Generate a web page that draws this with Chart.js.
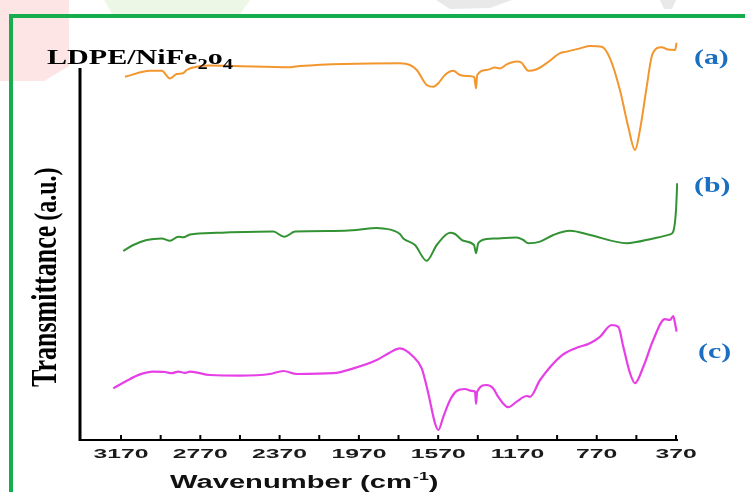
<!DOCTYPE html>
<html><head><meta charset="utf-8">
<script src="https://cdn.jsdelivr.net/npm/chart.js@4"></script>
<style>html,body{margin:0;padding:0;background:#fff;overflow:hidden}canvas{display:block}</style>
</head><body>
<canvas id="c" width="745" height="492"></canvas>
<script>
// ---- data (wavenumber in cm-1, transmittance in a.u.) ----
const waveA = [3150,3024,2965,2923,2889,2857,2839,2788,2721,2605,2318,2267,1763,1712,1678,1628,1595,1569,1536,1494,1460,1418,1388,1379,1373,1325,1283,1258,1224,1174,1149,1115,1073,1023,955,922,854,804,745,703,653,611,577,552,518,493,468,442,417,375,367];
const transA = [90.8,92.3,92.3,90.4,91.5,91.7,92.5,93.3,93.6,93.5,93.2,93.5,94.2,93.75,92.5,88.75,88.3,89.2,91.25,92.3,91.25,91,90.7,87.9,91.25,92.5,93.1,92.9,93.9,94.6,94.3,92.3,92.7,94.2,96.7,97.1,97.9,98.5,98.3,95.4,87.5,78.3,72.5,77.5,88.3,95.8,97.9,98.2,97.7,97.5,99.3];

const waveB = [3159,3108,3041,2965,2923,2881,2856,2822,2687,2402,2346,2292,2099,1981,1880,1847,1763,1746,1687,1628,1577,1510,1485,1443,1389,1379,1368,1325,1275,1174,1141,1115,1056,989,905,804,619,485,400,384,370,364];
const transB = [47.25,48.75,50,50.4,49.8,50.8,50.7,51.4,51.8,52.1,50.8,52.1,52.25,52.5,53,52.9,51.5,50.4,48.75,44.8,48.75,51.8,51.5,49.8,48.75,46.7,49.2,50.25,50.4,50.6,50,49.2,49.6,51.25,52.3,51.25,49.2,50.4,51.4,52.1,57.5,64.2];

const waveC = [3209,3141,3074,3007,2948,2914,2881,2847,2822,2721,2570,2418,2351,2284,2099,1998,1880,1813,1763,1695,1653,1620,1586,1569,1544,1510,1477,1435,1401,1384,1379,1373,1325,1292,1267,1216,1174,1123,1107,1056,955,880,804,754,695,661,636,602,577,535,485,426,400,384,375,367];
const transC = [12.9,14.8,16.4,17.1,17,16.7,17.1,16.8,17.1,16.25,16.1,16.5,17.25,16.5,16.7,17.9,20,21.9,22.9,20.8,17.9,11.7,4.2,2.5,5.8,10,12.25,12.75,12.3,12.1,9,12.1,13.75,12.9,10.8,8.2,9.6,11,10.8,15,20.8,22.9,24.2,25.8,28.75,28.3,23.3,16.7,14.2,18.3,25,30.2,30,31,29.2,27.1];

const seriesLabels = ['(a)','(b)','(c)'];
const seriesLabelLevel = [93.9, 61.9, 20.4];   // baseline level of series tags (a.u.)
const tickValues = [3170,2970,2770,2570,2370,2170,1970,1770,1570,1370,1170,970,770,570,370];
const tickLabels = ['3170','','2770','','2370','','1970','','1570','','1170','','770','','370'];
const xTitleMain = 'Wavenumber (cm';
const xTitleSup = '-1';
const xTitleEnd = ')';
const yTitleMain = 'Transmittance';
const yTitleUnit = '(a.u.)';
const sampleMain = 'LDPE/NiFe';
const sampleSub1 = '2';
const sampleMid = 'o';
const sampleSub2 = '4';

const xMin = 360, xMax = 3377;
const yMin = 0, yMax = 100, yAxisTop = 93;

function stretchText(ctx, text, x, y, font, sx, color, align) {
  ctx.save();
  ctx.font = font; ctx.fillStyle = color; ctx.textBaseline = 'alphabetic'; ctx.textAlign = 'left';
  const w = ctx.measureText(text).width * sx;
  let x0 = x;
  if (align === 'center') x0 = x - w / 2; else if (align === 'right') x0 = x - w;
  ctx.translate(x0, y); ctx.scale(sx, 1); ctx.fillText(text, 0, 0);
  ctx.restore();
  return w;
}

const deco = {
  id: 'deco',
  beforeDraw(chart) {
    const ctx = chart.ctx, W = chart.width, H = chart.height;
    ctx.save();
    ctx.fillStyle = '#fff'; ctx.fillRect(0, 0, W, H);
    ctx.fillStyle = '#fde5e5';
    ctx.beginPath(); ctx.moveTo(0,0); ctx.lineTo(69,0); ctx.lineTo(69,66); ctx.lineTo(44,81); ctx.lineTo(0,81); ctx.closePath(); ctx.fill();
    ctx.fillStyle = '#edf7e5';
    ctx.beginPath(); ctx.moveTo(104,0); ctx.lineTo(250,0); ctx.lineTo(240,14); ctx.lineTo(112,14); ctx.closePath(); ctx.fill();
    ctx.fillStyle = '#e9e9e9';
    ctx.beginPath(); ctx.moveTo(436,0); ctx.lineTo(512,0); ctx.lineTo(490,8); ctx.lineTo(450,9); ctx.closePath(); ctx.fill();
    ctx.beginPath(); ctx.moveTo(660,0); ctx.lineTo(676,0); ctx.lineTo(672,9); ctx.lineTo(664,9); ctx.closePath(); ctx.fill();
    ctx.strokeStyle = '#16ad4e'; ctx.lineWidth = 4;
    ctx.beginPath(); ctx.moveTo(11, H + 5); ctx.lineTo(11, 16); ctx.lineTo(W + 5, 16); ctx.stroke();
    ctx.restore();
  },
  afterDraw(chart) {
    const ctx = chart.ctx, a = chart.chartArea, xs = chart.scales.x, ys = chart.scales.y;
    ctx.save();
    ctx.strokeStyle = '#000';
    // y axis line
    ctx.lineWidth = 3;
    ctx.beginPath(); ctx.moveTo(a.left, ys.getPixelForValue(yAxisTop)); ctx.lineTo(a.left, a.bottom + 1); ctx.stroke();
    // x axis line
    ctx.lineWidth = 2;
    ctx.beginPath(); ctx.moveTo(a.left - 1, a.bottom); ctx.lineTo(a.right, a.bottom); ctx.stroke();
    // tick marks (inward)
    xs.ticks.forEach(t => {
      const px = xs.getPixelForValue(t.value);
      ctx.beginPath(); ctx.moveTo(px, a.bottom); ctx.lineTo(px, a.bottom - 5); ctx.stroke();
    });
    // tick labels
    const tf = 'bold 13px "Liberation Sans", Arial, sans-serif';
    ctx.font = tf;
    const tsx = 55 / ctx.measureText('3170').width;
    xs.ticks.forEach((t, i) => {
      const lab = tickLabels[tickValues.indexOf(t.value)];
      if (lab) stretchText(ctx, lab, xs.getPixelForValue(t.value), a.bottom + 18, tf, tsx, '#1a1a1a', 'center');
    });
    // x title
    const xf = 'bold 18px "Liberation Sans", Arial, sans-serif';
    const xfs = 'bold 11px "Liberation Sans", Arial, sans-serif';
    const xsx = 1.62;
    let cx = 170;
    const base = 488;
    cx += stretchText(ctx, xTitleMain, cx, base, xf, xsx, '#111', 'left');
    cx += stretchText(ctx, xTitleSup, cx + 1, base - 8, xfs, xsx, '#111', 'left') + 1;
    stretchText(ctx, xTitleEnd, cx, base, xf, xsx, '#111', 'left');
    // y title (rotated)
    ctx.save();
    ctx.translate(56, 387);
    ctx.rotate(-Math.PI / 2);
    ctx.scale(1, 1.35);
    ctx.fillStyle = '#000'; ctx.textAlign = 'left'; ctx.textBaseline = 'alphabetic';
    ctx.font = 'bold 26px "Liberation Serif", "Times New Roman", serif';
    const tw = ctx.measureText(yTitleMain).width;
    ctx.fillText(yTitleMain, 0, 0);
    ctx.font = 'bold 24px "Liberation Serif", "Times New Roman", serif';
    ctx.fillText(yTitleUnit, tw + 5, 0);
    ctx.restore();
    // sample label
    const sf = 'bold 22px "Liberation Serif", "Times New Roman", serif';
    const ssf = 'bold 15px "Liberation Serif", "Times New Roman", serif';
    ctx.font = sf;
    let nat = ctx.measureText(sampleMain).width + ctx.measureText(sampleMid).width;
    ctx.font = ssf;
    nat += ctx.measureText(sampleSub1).width + ctx.measureText(sampleSub2).width;
    const ssx = 186 / nat;
    let sx0 = 47;
    sx0 += stretchText(ctx, sampleMain, sx0, 64, sf, ssx, '#000', 'left');
    sx0 += stretchText(ctx, sampleSub1, sx0, 69, ssf, ssx, '#000', 'left');
    sx0 += stretchText(ctx, sampleMid, sx0, 64, sf, ssx, '#000', 'left');
    stretchText(ctx, sampleSub2, sx0, 69, ssf, ssx, '#000', 'left');
    // series tags
    const lf = 'bold 21px "Liberation Serif", "Times New Roman", serif';
    const tagX = [694, 694, 698];
    seriesLabels.forEach((s, i) => {
      stretchText(ctx, s, tagX[i], ys.getPixelForValue(seriesLabelLevel[i]), lf, 1.42, '#1b6fc0', 'left');
    });
    ctx.restore();
  }
};

const mk = (w, t) => w.map((v, i) => ({ x: v, y: t[i] }));

new Chart(document.getElementById('c'), {
  type: 'line',
  data: {
    datasets: [
      { data: mk(waveA, transA), borderColor: '#f2962e', borderWidth: 2 },
      { data: mk(waveB, transB), borderColor: '#339233', borderWidth: 2 },
      { data: mk(waveC, transC), borderColor: '#e63fe6', borderWidth: 2.2 }
    ]
  },
  options: {
    responsive: false,
    animation: false,
    devicePixelRatio: 1,
    layout: { padding: { left: 80, right: 67, top: 40, bottom: 0 } },
    elements: { point: { radius: 0 }, line: { cubicInterpolationMode: 'monotone', fill: false } },
    plugins: { legend: { display: false }, tooltip: { enabled: false } },
    scales: {
      x: {
        type: 'linear', reverse: true, min: xMin, max: xMax,
        afterBuildTicks: s => { s.ticks = tickValues.map(v => ({ value: v })); },
        afterFit: s => { s.height = 52; },
        grid: { display: false, drawTicks: false },
        border: { display: false },
        ticks: { display: false }
      },
      y: { display: false, min: yMin, max: yMax }
    }
  },
  plugins: [deco]
});
</script>
</body></html>
